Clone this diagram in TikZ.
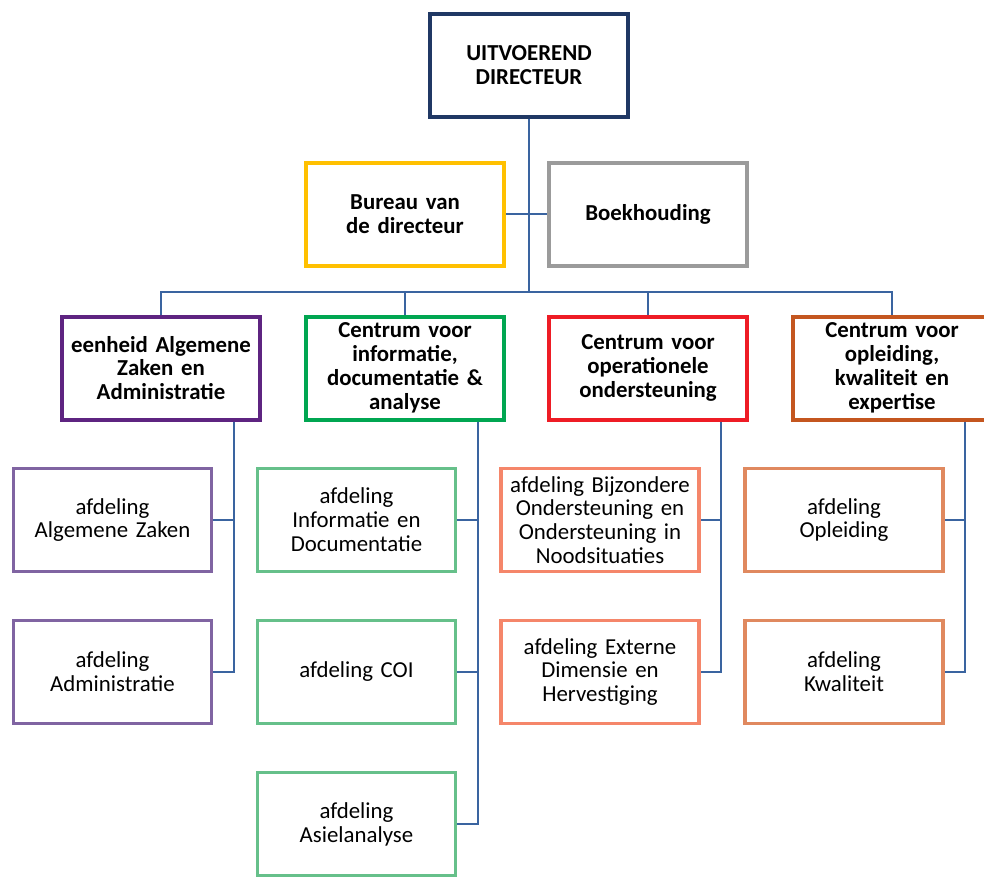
\documentclass[tikz,border=0pt]{standalone}
\usepackage{fontspec}
\setmainfont{Carlito}
\usepackage{xcolor}
\usetikzlibrary{positioning}
\definecolor{linkblue}{HTML}{3A64A0}
\definecolor{navy}{HTML}{203864}
\definecolor{bureauyellow}{HTML}{FFC000}
\definecolor{boekgray}{HTML}{9B9B9B}
\definecolor{eazpurple}{HTML}{5E2481}
\definecolor{cidgreen}{HTML}{00A651}
\definecolor{cosred}{HTML}{EE1C25}
\definecolor{oplorange}{HTML}{C4561F}
\definecolor{lpurple}{HTML}{8064A2}
\definecolor{lgreen}{HTML}{66C08A}
\definecolor{lsalmon}{HTML}{F5866A}
\definecolor{ltan}{HTML}{E0895F}
\tikzset{
  head/.style={draw,line width=0.08cm,fill=white,minimum width=3.96cm,minimum height=2.06cm,
    align=center,text width=3.7cm,font=\fontsize{13}{13.6}\selectfont\bfseries,inner sep=0pt},
  unit/.style={draw,line width=0.07cm,fill=white,minimum width=3.96cm,minimum height=2.06cm,
    align=center,text width=3.8cm,font=\fontsize{13}{13.6}\selectfont,inner sep=0pt},
  conn/.style={draw=linkblue,line width=0.05cm}
}
\begin{document}
\begin{tikzpicture}
\useasboundingbox (0,0) rectangle (19.68,-17.54);
\clip (0,0) rectangle (19.68,-17.54);

%top
\node[head,draw=navy] (dir) at (10.58,-1.30) {UITVOEREND\\DIRECTEUR};
\node[head,draw=bureauyellow] (bur) at (8.10,-4.28) {Bureau van\\de directeur};
\node[head,draw=boekgray] (boek) at (12.96,-4.28) {Boekhouding};
\coordinate (bus) at (0,-5.84);

%centres
\node[head,draw=eazpurple] (eaz) at (3.22,-7.36) {eenheid Algemene\\Zaken en\\Administratie};
\node[head,draw=cidgreen] (cid) at (8.10,-7.36) {Centrum voor\\informatie,\\documentatie \&\\analyse};
\node[head,draw=cosred] (cos) at (12.96,-7.36) {Centrum voor\\operationele\\ondersteuning};
\node[head,draw=oplorange] (opl) at (17.84,-7.36) {Centrum voor\\opleiding,\\kwaliteit en\\expertise};

%afdelingen
\node[unit,draw=lpurple] (az) at (2.25,-10.40) {afdeling\\Algemene Zaken};
\node[unit,draw=lpurple] (adm) at (2.25,-13.44) {afdeling\\Administratie};
\node[unit,draw=lgreen] (infdoc) at (7.13,-10.40) {afdeling\\Informatie en\\Documentatie};
\node[unit,draw=lgreen] (coi) at (7.13,-13.44) {afdeling COI};
\node[unit,draw=lgreen] (asiel) at (7.13,-16.48) {afdeling\\Asielanalyse};
\node[unit,draw=lsalmon] (bijz) at (12.00,-10.40) {afdeling Bijzondere\\Ondersteuning en\\Ondersteuning in\\Noodsituaties};
\node[unit,draw=lsalmon] (ext) at (12.00,-13.44) {afdeling Externe\\Dimensie en\\Hervestiging};
\node[unit,draw=ltan] (oplei) at (16.88,-10.40) {afdeling\\Opleiding};
\node[unit,draw=ltan] (kwal) at (16.88,-13.44) {afdeling\\Kwaliteit};

%links
\draw[conn] (dir.south) -- (dir.south |- bus);
\draw[conn] (bur.east) -- (boek.west);
\draw[conn] (eaz.north) -- (eaz.north |- bus) -- (opl.north |- bus) -- (opl.north);
\draw[conn] (cid.north) -- (cid.north |- bus);
\draw[conn] (cos.north) -- (cos.north |- bus);

\draw[conn] ([xshift=1.46cm]eaz.south) |- (az.east);
\draw[conn] ([xshift=1.46cm]eaz.south) |- (adm.east);
\draw[conn] ([xshift=1.46cm]cid.south) |- (infdoc.east);
\draw[conn] ([xshift=1.46cm]cid.south) |- (coi.east);
\draw[conn] ([xshift=1.46cm]cid.south) |- (asiel.east);
\draw[conn] ([xshift=1.46cm]cos.south) |- (bijz.east);
\draw[conn] ([xshift=1.46cm]cos.south) |- (ext.east);
\draw[conn] ([xshift=1.46cm]opl.south) |- (oplei.east);
\draw[conn] ([xshift=1.46cm]opl.south) |- (kwal.east);
\end{tikzpicture}
\end{document}
